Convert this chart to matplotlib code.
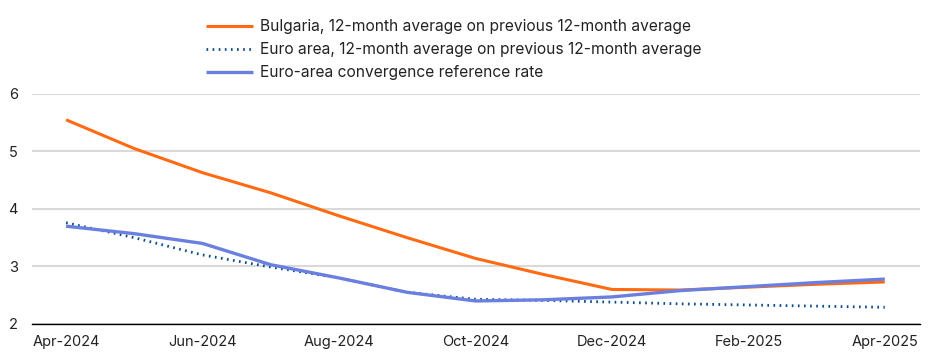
import matplotlib
matplotlib.use('Agg')
import matplotlib.pyplot as plt

# monthly data, Apr-2024 .. Apr-2025
months = ['Apr-2024', 'May-2024', 'Jun-2024', 'Jul-2024', 'Aug-2024', 'Sep-2024', 'Oct-2024',
          'Nov-2024', 'Dec-2024', 'Jan-2025', 'Feb-2025', 'Mar-2025', 'Apr-2025']
bulgaria = [5.55, 5.05, 4.63, 4.28, 3.88, 3.50, 3.14, 2.86, 2.60, 2.59, 2.64, 2.69, 2.73]
euro_area = [3.76, 3.50, 3.20, 2.99, 2.80, 2.55, 2.43, 2.41, 2.38, 2.35, 2.33, 2.31, 2.29]
reference = [3.70, 3.57, 3.40, 3.03, 2.80, 2.55, 2.40, 2.42, 2.47, 2.58, 2.65, 2.72, 2.78]

tick_labels = months[::2]

plt.rcParams['font.family'] = ['Inter', 'DejaVu Sans']

fig = plt.figure(figsize=(9.4, 3.64), dpi=100)
ax = fig.add_axes([0.034, 0.110, 0.945, 0.632])

x = list(range(len(months)))
ax.plot(x, bulgaria, color='#ff6a13', lw=2.2, solid_capstyle='butt',
        label='Bulgaria, 12-month average on previous 12-month average')
ax.plot(x, euro_area, color='#0d4a8c', lw=2, linestyle=(0, (0.6, 1.6)),
        label='Euro area, 12-month average on previous 12-month average')
ax.plot(x, reference, color='#6a80e0', lw=2.4, solid_capstyle='butt',
        label='Euro-area convergence reference rate')

ax.set_ylim(2, 6)
ax.set_yticks([2, 3, 4, 5, 6])
ax.set_xlim(-0.5, len(months) - 1 + 0.52)
ax.set_xticks(x[::2])
ax.set_xticklabels(tick_labels)

ax.grid(axis='y', color='#d9d9d9', lw=1.5)
ax.set_axisbelow(True)
for s in ['top', 'right', 'left']:
    ax.spines[s].set_visible(False)
ax.spines['bottom'].set_color('#000000')
ax.spines['bottom'].set_linewidth(1.0)
ax.tick_params(axis='both', length=0, labelsize=10.5, colors='#222222')
ax.tick_params(axis='y', pad=10)
ax.tick_params(axis='x', pad=8)

fig.legend(loc='upper center', bbox_to_anchor=(0.483, 0.985), frameon=False,
           fontsize=11.2, handlelength=3.0, handletextpad=0.5, labelspacing=0.5,
           labelcolor='#222222')

fig.savefig('out.png', dpi=100)
